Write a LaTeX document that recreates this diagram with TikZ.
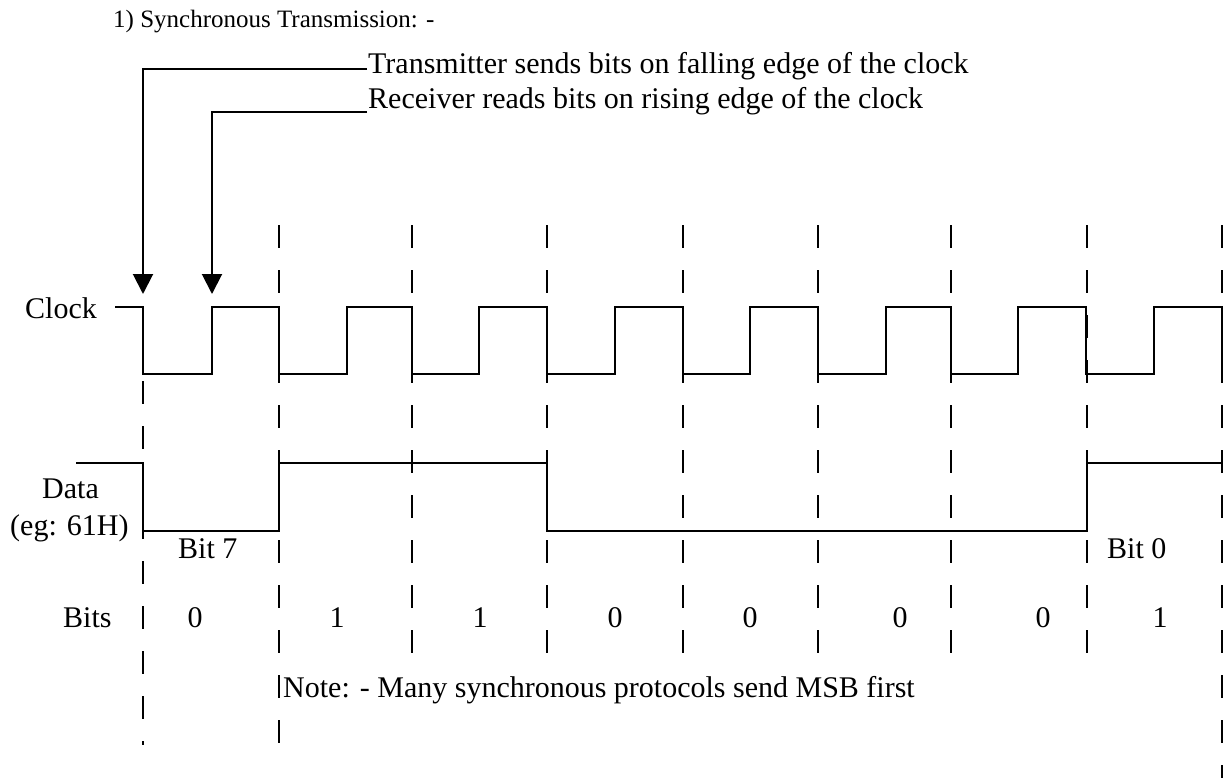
\documentclass[tikz,border=0pt]{standalone}
\usepackage{fontspec}
\setmainfont{Liberation Serif}
\usetikzlibrary{arrows.meta}
\begin{document}
\begin{tikzpicture}[x=1pt,y=-1pt,
  wave/.style={line width=2pt, line join=miter},
  gridline/.style={line width=2pt, dash pattern=on 23pt off 22pt},
  lbl/.style={anchor=base west, inner sep=0pt, font=\fontsize{30}{30}\selectfont},
  digit/.style={anchor=base, inner sep=0pt, font=\fontsize{30}{30}\selectfont},
  ptr/.style={line width=2pt, -{Triangle[width=20pt,length=20pt]}}]
\useasboundingbox (0,0) rectangle (1230,778);

% title
\node[lbl, font=\fontsize{25}{25}\selectfont] (title) at (113,28) {1) Synchronous Transmission: -};

% annotations
\node[lbl] (tx) at (368,74) {Transmitter sends bits on falling edge of the clock};
\node[lbl] (rx) at (368,109) {Receiver reads bits on rising edge of the clock};
\coordinate (txl) at (367,69);
\coordinate (rxl) at (367,112);
\coordinate (fall) at (143,294);
\coordinate (rise) at (212,294);
\draw[ptr] (txl) -| (fall);
\draw[ptr] (rxl) -| (rise);

% dashed grid lines
\draw[gridline] (143,381) -- (143,745);
\draw[gridline] (279,225) -- (279,745);
\foreach \x in {412,547,683,818,951,1087}
  \draw[gridline] (\x,225) -- (\x,653);
\draw[gridline] (1222,225) -- (1222,778);

% clock
\node[lbl] (clk) at (25,318) {Clock};
\draw[wave] (115,307) -- (143,307) -- (143,374) -- (212,374) -- (212,307)
  -- (279,307) -- (279,374) -- (347,374) -- (347,307)
  -- (412,307) -- (412,374) -- (479,374) -- (479,307)
  -- (547,307) -- (547,374) -- (615,374) -- (615,307)
  -- (683,307) -- (683,374) -- (750,374) -- (750,307)
  -- (818,307) -- (818,374) -- (886,374) -- (886,307)
  -- (951,307) -- (951,374) -- (1018,374) -- (1018,307)
  -- (1086,307) -- (1086,374) -- (1154,374) -- (1154,307)
  -- (1222,307) -- (1222,375);

% data
\node[lbl] (data) at (42,498) {Data};
\node[lbl] (eg) at (10,535) {(eg: 61H)};
\draw[wave] (76,463) -- (143,463) -- (143,531) -- (279,531) -- (279,463)
  -- (547,463) -- (547,531) -- (1087,531) -- (1087,463) -- (1222,463);
\node[lbl] (b7) at (178,558) {Bit 7};
\node[lbl] (b0) at (1107,558) {Bit 0};

% bits
\node[lbl] (bits) at (63,627) {Bits};
\node[digit] (d7) at (195,627) {0};
\node[digit] (d6) at (337,627) {1};
\node[digit] (d5) at (480,627) {1};
\node[digit] (d4) at (615,627) {0};
\node[digit] (d3) at (750,627) {0};
\node[digit] (d2) at (900,627) {0};
\node[digit] (d1) at (1043,627) {0};
\node[digit] (d0) at (1160,627) {1};

\node[lbl] (note) at (283,697) {Note: - Many synchronous protocols send MSB first};
\end{tikzpicture}
\end{document}
